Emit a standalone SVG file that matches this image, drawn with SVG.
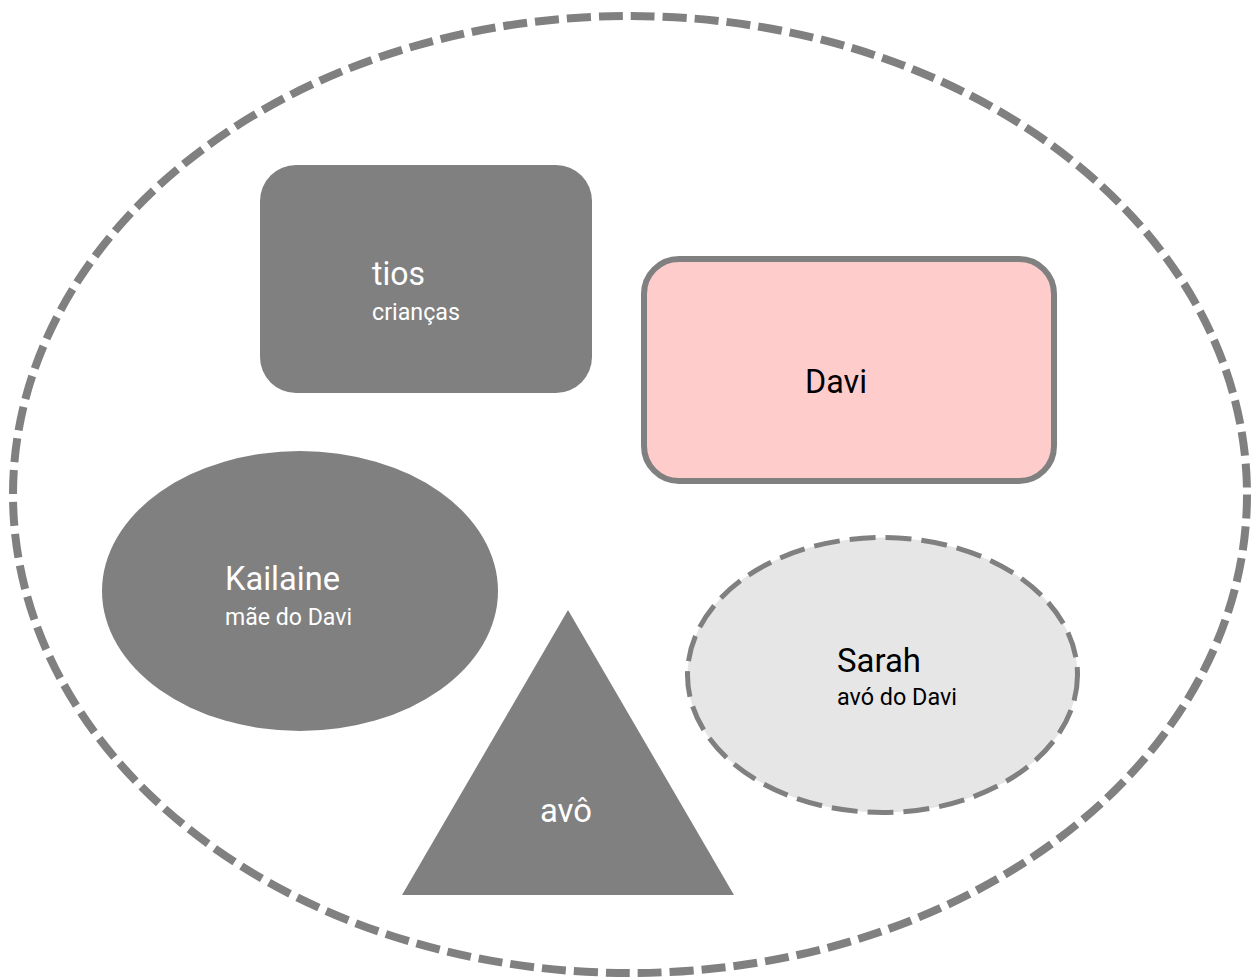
<svg xmlns="http://www.w3.org/2000/svg" width="1251" height="979" viewBox="0 0 1251 979">
<style>
.big{font-family:Roboto,"Liberation Sans",sans-serif;font-size:34px}
.small{font-family:Roboto,"Liberation Sans",sans-serif;font-size:23px}
.w{fill:#ffffff}
.k{fill:#000000}
.dark{fill:#808080}
</style>
<rect width="1251" height="979" fill="#ffffff"/>
<g id="outer">
<ellipse cx="630" cy="494.5" rx="617" ry="478.5" fill="none" stroke="#808080" stroke-width="8" stroke-dasharray="24 8"/>
</g>
<g id="connectors"></g>
<g id="tios">
<rect class="dark" x="260" y="165" width="332" height="228" rx="36" ry="36"/>
<text class="big w" x="372" y="285" textLength="53" lengthAdjust="spacingAndGlyphs">tios</text>
<text class="small w" x="372" y="320" textLength="88" lengthAdjust="spacingAndGlyphs">crianças</text>
</g>
<g id="davi">
<rect x="644" y="259" width="410" height="222" rx="35" ry="35" fill="#ffcccc" stroke="#808080" stroke-width="6"/>
<text class="big k" x="805" y="393" textLength="62" lengthAdjust="spacingAndGlyphs">Davi</text>
</g>
<g id="kailaine">
<ellipse class="dark" cx="300" cy="591" rx="198" ry="140"/>
<text class="big w" x="225" y="590" textLength="115" lengthAdjust="spacingAndGlyphs">Kailaine</text>
<text class="small w" x="225" y="625" textLength="127" lengthAdjust="spacingAndGlyphs">mãe do Davi</text>
</g>
<g id="sarah">
<ellipse cx="882.5" cy="675" rx="195" ry="137.5" fill="#e6e6e6" stroke="#808080" stroke-width="5" stroke-dasharray="26 10"/>
<text class="big k" x="837" y="672" textLength="84" lengthAdjust="spacingAndGlyphs">Sarah</text>
<text class="small k" x="837" y="705" textLength="120" lengthAdjust="spacingAndGlyphs">avó do Davi</text>
</g>
<g id="avo">
<polygon class="dark" points="568,610 734,895 402,895"/>
<text class="big w" x="540" y="822" textLength="52" lengthAdjust="spacingAndGlyphs">avô</text>
</g>
</svg>
